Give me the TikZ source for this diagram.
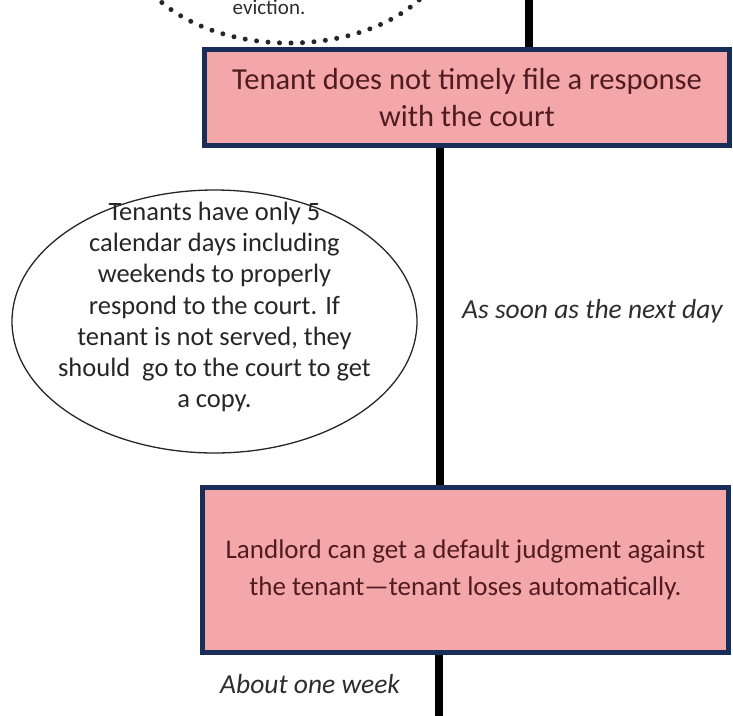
\documentclass[tikz,border=0pt]{standalone}
\usepackage{fontspec}
\setmainfont{Carlito}
\usetikzlibrary{shapes.geometric,backgrounds}
\definecolor{boxfill}{RGB}{244,167,169}
\definecolor{boxline}{RGB}{24,45,88}
\definecolor{boxtext}{RGB}{80,28,34}
\definecolor{labtext}{RGB}{45,45,45}
\tikzset{
  stepbox/.style={draw=boxline, line width=5pt, fill=boxfill, text=boxtext,
    align=center, inner sep=0pt},
  vline/.style={line width=8pt, black},
  notebubble/.style={draw=black!85, line width=1.3pt, ellipse, inner sep=0pt},
  notetext/.style={font=\fontsize{26.5}{31.3}\selectfont, align=center, text=black!85},
  timelabel/.style={font=\itshape\fontsize{27.5}{32}\selectfont, text=labtext, inner sep=0pt},
  dotline/.style={line width=5pt, line cap=round, dash pattern=on 0pt off 11.5pt, black!85}
}
\begin{document}
\begin{tikzpicture}[x=1pt,y=-1pt]
\useasboundingbox (0,0) rectangle (733,715);
% partial dotted ellipse at top
\draw[dotline] (289,-60) ellipse [x radius=160, y radius=103];
\node[font=\fontsize{21}{26}\selectfont, text=labtext, anchor=base, inner sep=0pt] (evic) at (269,14) {eviction.};
% boxes
\node[stepbox, font=\fontsize{30.5}{37}\selectfont, minimum width=525pt, minimum height=96pt] (box1) at (467,97.5)
  {Tenant does not timely file a response\\with the court};
\node[stepbox, font=\fontsize{27}{37}\selectfont, minimum width=526pt, minimum height=165pt] (box2) at (465.5,570)
  {Landlord can get a default judgment against\\the tenant—tenant loses automatically.};
% ellipse note
\node[notebubble, minimum width=405pt, minimum height=263pt] (bubble) at (214.5,321.5) {};
\node[notetext] (bubbletext) at (214.5,307)
  {Tenants have only 5\\calendar days including\\weekends to properly\\respond to the court. If\\tenant is not served, they\\should~ go to the court to get\\a copy.};
% labels
\node[timelabel, anchor=west] (lab1) at (462,311) {As soon as the next day};
\node[timelabel, anchor=west] (lab2) at (220,684) {About one week};
\coordinate (topend) at (529,-5);
\coordinate (botend) at (439,720);
\begin{scope}[on background layer]
\draw[vline] (topend) -- (topend |- box1.north);
\draw[vline] ([xshift=-27pt]box1.south) -- ([xshift=-25.5pt]box2.north);
\draw[vline] ([xshift=-26.5pt]box2.south) -- (botend);
\end{scope}
\end{tikzpicture}
\end{document}
